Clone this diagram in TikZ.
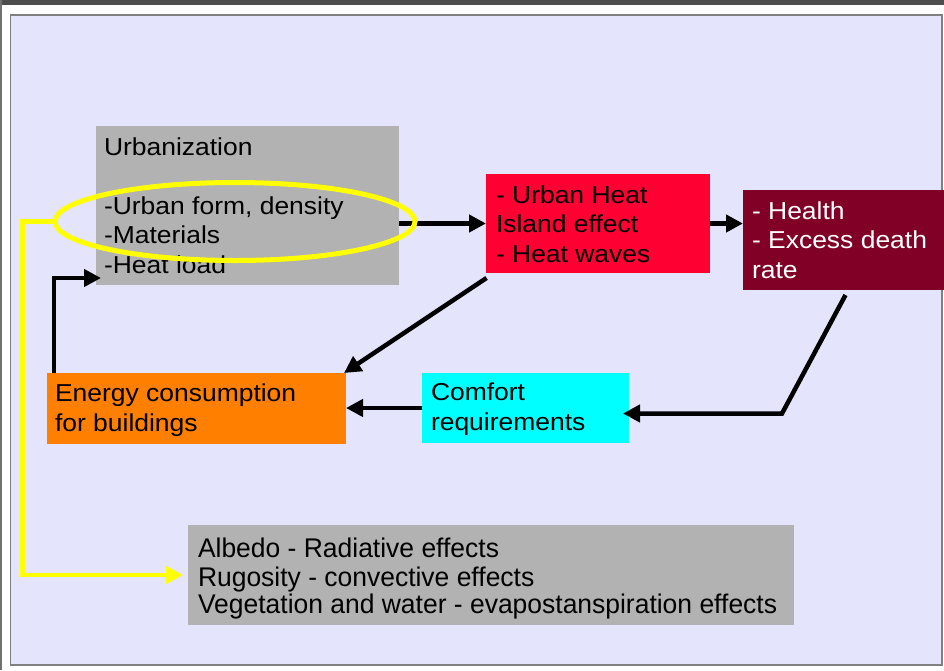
\documentclass[tikz,border=0pt]{standalone}
\usepackage{fontspec}
\newfontfamily\fontA{Liberation Sans}[FakeStretch=1.08]
\newfontfamily\fontB{Liberation Sans}[FakeStretch=0.98]
\usetikzlibrary{arrows.meta,shapes.geometric,calc}
\definecolor{panelfill}{RGB}{228,228,252}
\definecolor{panelline}{RGB}{128,128,128}
\definecolor{topbar}{RGB}{77,77,77}
\definecolor{boxgray}{RGB}{178,178,178}
\definecolor{uhired}{RGB}{255,0,51}
\definecolor{maroonbox}{RGB}{128,0,38}
\definecolor{orangebox}{RGB}{255,128,0}
\definecolor{cyanbox}{RGB}{0,255,255}
\definecolor{hiyellow}{RGB}{255,255,0}
% #1 width, #2 height, #3 first baseline below top, #4 left pad, #5 lines
\newcommand{\bxt}[5]{\parbox[c][#2][t]{#1}{\raggedright\leftskip=#4\relax
  \vspace*{\dimexpr #3-\ht\strutbox\relax}\strut #5\par}}
\tikzset{
  x=1pt, y=-1pt,
  box/.style={inner sep=0pt, outer sep=0pt, anchor=north west, draw=none},
  txta/.style={font=\fontA\fontsize{24.5}{29.5}\selectfont},
  txtb/.style={font=\fontB\fontsize{27}{27.5}\selectfont},
  arr/.style={draw=black, line width=4.5pt, -{Triangle[length=17pt,width=17pt]}},
  yarr/.style={draw=hiyellow, line width=4.3pt, -{Triangle[length=17pt,width=17pt]}},
}
\begin{document}
\begin{tikzpicture}
\useasboundingbox (0,0) rectangle (944,670);
\fill[white] (0,0) rectangle (944,670);
\fill[topbar] (0,0) rectangle (944,4.7);
\fill[topbar!80] (0,0) rectangle (1.5,670);
\draw[panelline, fill=panelfill, line width=1.5pt] (10.5,15) rectangle (942,665);

\node[box, fill=boxgray, txta] (urb) at (96,126)
  {\bxt{303pt}{159pt}{29pt}{8pt}{Urbanization\\[\baselineskip]-Urban form, density\\-Materials\\-Heat load}};
\node[box, fill=uhired, txta] (red) at (486,174)
  {\bxt{224pt}{99pt}{29pt}{10pt}{- Urban Heat\\Island effect\\- Heat waves}};
\node[box, fill=maroonbox, txta, text=white] (mar) at (743,190)
  {\bxt{201pt}{100pt}{29pt}{9pt}{- Health\\- Excess death\\rate}};
\node[box, fill=orangebox, txta] (eng) at (47,373)
  {\bxt{299pt}{71pt}{28.5pt}{8pt}{Energy consumption\\for buildings}};
\node[box, fill=cyanbox, txta] (cmf) at (422,373)
  {\bxt{207pt}{70pt}{27.5pt}{9pt}{Comfort\\requirements}};
\node[box, fill=boxgray, txtb] (alb) at (188,525)
  {\bxt{606pt}{100pt}{32pt}{10pt}{Albedo - Radiative effects\\Rugosity - convective effects\\Vegetation and water - evapostanspiration effects}};

\coordinate (bend) at (782,413.5);

\draw[arr] (urb.east |- red.west) -- (red.west);
\draw[arr] (red.east) -- (red.east -| mar.west);
\draw[arr] ([xshift=2pt,yshift=-5pt]mar.south) -- (bend) -- ([xshift=-6pt]cmf.east |- bend);
\draw[arr] (cmf.west) -- (cmf.west -| eng.east);
\draw[arr] ([xshift=0.5pt,yshift=-5pt]red.south west) -- ([xshift=-2pt]eng.north east);
\draw[arr] ([xshift=7pt]eng.north west) |- ([xshift=5pt,yshift=7pt]urb.south west);

\node[draw=hiyellow, line width=5pt, ellipse, minimum width=360pt, minimum height=78pt, inner sep=0pt] (ell) at (235,221.5) {};
\draw[yarr] (ell.west) -- ++(-30,0) |- ([xshift=-5pt]alb.west);
\end{tikzpicture}
\end{document}
